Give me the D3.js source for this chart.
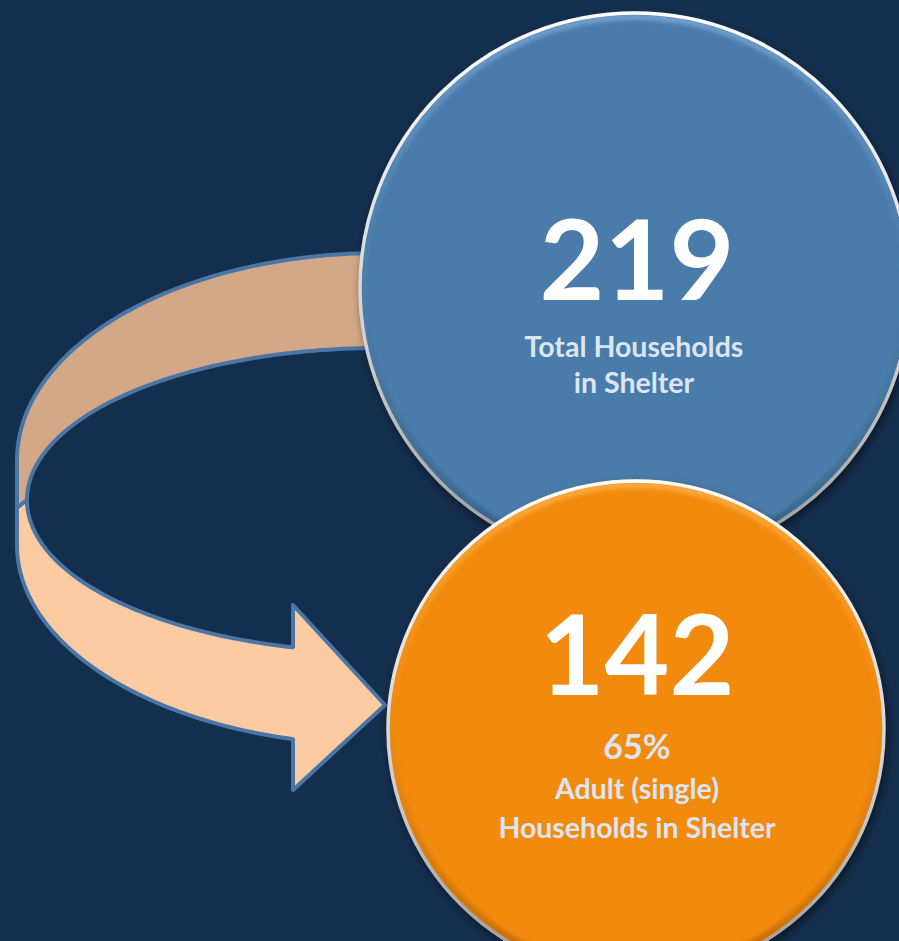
<!DOCTYPE html>
<html>
<head>
<meta charset="utf-8">
<script src="https://cdn.jsdelivr.net/npm/d3@7"></script>
<style>
  html, body { margin: 0; padding: 0; background: #142e4d; }
  svg { display: block; }
</style>
</head>
<body>
<div id="chart"></div>
<script>
// --- data ---
const counts = [219, 142];
const countNames = ["total", "adult"];
const subLabels = [
  ["Total Households", "in Shelter"],
  ["Adult (single)", "Households in Shelter"]
];
const shareLabel = d3.format(".0%")(counts[1] / counts[0]); // 65%

// --- layout ---
const width = 899, height = 941;
const circles = [
  { cx: 635, cy: 288, r: 276, fill: "#4a7baa", glow: "#7aa6d6" },
  { cx: 636, cy: 729, r: 249, fill: "#f28a10", glow: "#ffb04a" }
];

const svg = d3.select("#chart").append("svg")
  .attr("width", width)
  .attr("height", height);

svg.append("rect").attr("width", width).attr("height", height).attr("fill", "#142e4d");

const defs = svg.append("defs");

// drop shadow for the discs
const shadow = defs.append("filter").attr("id", "shadow")
  .attr("x", "-20%").attr("y", "-20%").attr("width", "140%").attr("height", "140%");
shadow.append("feDropShadow")
  .attr("dx", 2).attr("dy", 4).attr("stdDeviation", 5)
  .attr("flood-color", "#000").attr("flood-opacity", 0.55);

const blur = defs.append("filter").attr("id", "soft");
blur.append("feGaussianBlur").attr("stdDeviation", 2);

// ring gradient (white top, grey bottom)
const ring = defs.append("linearGradient").attr("id", "ring")
  .attr("x1", 0).attr("y1", 0).attr("x2", 0).attr("y2", 1);
ring.append("stop").attr("offset", "0%").attr("stop-color", "#ffffff");
ring.append("stop").attr("offset", "60%").attr("stop-color", "#d0d0d0");
ring.append("stop").attr("offset", "100%").attr("stop-color", "#9a9a9a");

circles.forEach((c, i) => {
  const g = defs.append("linearGradient").attr("id", "bevel" + i)
    .attr("x1", 0).attr("y1", 0).attr("x2", 0).attr("y2", 1);
  g.append("stop").attr("offset", "0%").attr("stop-color", c.glow).attr("stop-opacity", 0.9);
  g.append("stop").attr("offset", "35%").attr("stop-color", c.glow).attr("stop-opacity", 0.15);
  g.append("stop").attr("offset", "100%").attr("stop-color", "#000").attr("stop-opacity", 0.25);
});

// --- curved arrow (drawn as elliptical bands) ---
const outerTop = { cx: 380, cy: 460, rx: 363, ry: 207 };
const outerBot = { cx: 380, cy: 545, rx: 363, ry: 200 };
const inner    = { cx: 380, cy: 500, rx: 353, ry: 152 };
const head = { x: 293, top: 605, tipX: 385, tipY: 705, bottom: 790 };

function arcPts(e, t0, t1, n) {
  return d3.range(n + 1).map(k => {
    const t = t0 + (t1 - t0) * k / n;
    return [e.cx + e.rx * Math.cos(t), e.cy + e.ry * Math.sin(t)];
  });
}
const tAt = (e, x) => Math.acos((x - e.cx) / e.rx);

const line = d3.line();
const arrowStroke = "#4a76a6";

// back band (tan)
const backPts = []
  .concat(arcPts(outerTop, -tAt(outerTop, 400), -Math.PI, 80))
  .concat([[outerTop.cx - outerTop.rx, 508]])
  .concat(arcPts(inner, -Math.PI, -tAt(inner, 400), 80));

svg.append("path")
  .attr("d", line(backPts) + "Z")
  .attr("fill", "#d3a886")
  .attr("stroke", arrowStroke)
  .attr("stroke-width", 4)
  .attr("stroke-linejoin", "round");

// front band with arrow head (peach)
const frontPts = []
  .concat(arcPts(inner, Math.PI, tAt(inner, head.x), 80))
  .concat([[head.x, head.top], [head.tipX, head.tipY], [head.x, head.bottom]])
  .concat(arcPts(outerBot, tAt(outerBot, head.x), Math.PI, 80))
  .concat([[outerTop.cx - outerTop.rx, 508]]);

svg.append("path")
  .attr("d", line(frontPts) + "Z")
  .attr("fill", "#fccba2")
  .attr("stroke", arrowStroke)
  .attr("stroke-width", 4)
  .attr("stroke-linejoin", "round");

// --- discs ---
const discs = svg.selectAll("g.disc")
  .data(circles)
  .enter().append("g")
  .attr("class", "disc");

discs.append("circle")
  .attr("cx", d => d.cx).attr("cy", d => d.cy).attr("r", d => d.r)
  .attr("fill", d => d.fill)
  .attr("filter", "url(#shadow)");

discs.append("circle")
  .attr("cx", d => d.cx).attr("cy", d => d.cy).attr("r", d => d.r - 5)
  .attr("fill", "none")
  .attr("stroke", (d, i) => `url(#bevel${i})`)
  .attr("stroke-width", 6)
  .attr("filter", "url(#soft)");

discs.append("circle")
  .attr("cx", d => d.cx).attr("cy", d => d.cy).attr("r", d => d.r - 1)
  .attr("fill", "none")
  .attr("stroke", "url(#ring)")
  .attr("stroke-width", 3.5);

// --- texts ---
const font = "Lato, 'Open Sans', sans-serif";

discs.append("text")
  .attr("x", (d, i) => d.cx + (i === 0 ? 2 : 1))
  .attr("y", (d, i) => d.cy + (i === 0 ? 12 : -34))
  .attr("text-anchor", "middle")
  .attr("font-family", font)
  .attr("font-weight", 700)
  .attr("font-size", 112)
  .attr("fill", "#ffffff")
  .text((d, i) => counts[i]);

// blue disc caption
const cap0 = svg.append("text")
  .attr("text-anchor", "middle")
  .attr("font-family", font)
  .attr("font-weight", 700)
  .attr("font-size", 28.5)
  .attr("fill", "#dce6f2");
subLabels[0].forEach((s, k) => {
  cap0.append("tspan").attr("x", circles[0].cx - 1).attr("y", circles[0].cy + 69 + k * 36).text(s);
});

// orange disc caption
const cap1 = svg.append("text")
  .attr("text-anchor", "middle")
  .attr("font-family", font)
  .attr("font-weight", 700)
  .attr("fill", "#dce6f2");
cap1.append("tspan")
  .attr("x", circles[1].cx + 1).attr("y", circles[1].cy + 30)
  .attr("font-size", 34)
  .text(shareLabel);
subLabels[1].forEach((s, k) => {
  cap1.append("tspan")
    .attr("x", circles[1].cx + 1).attr("y", circles[1].cy + 70 + k * 38.5)
    .attr("font-size", 28.5)
    .text(s);
});
</script>
</body>
</html>
